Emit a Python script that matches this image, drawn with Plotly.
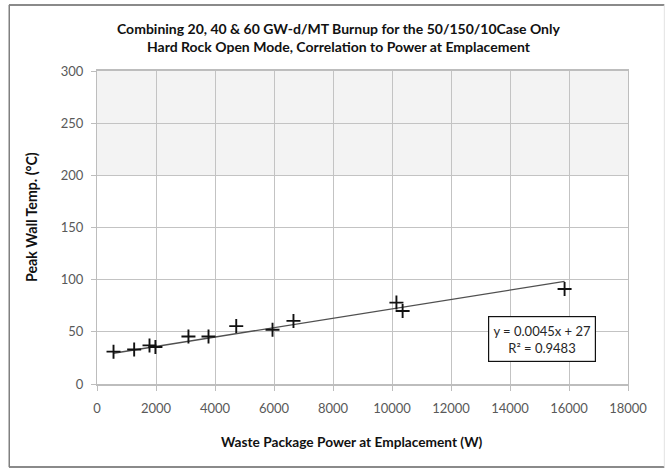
import plotly.graph_objects as go

# Peak wall temperature vs. waste package power at emplacement
power_w = [560, 1260, 1780, 1980, 3100, 3780, 4720, 5950, 6660, 10150, 10360, 15850]
peak_temp_c = [31, 33, 37, 35.5, 45.5, 45.5, 55.5, 52, 60.5, 78, 70, 91]

# Linear trendline reported on the chart
slope = 0.0045
intercept = 27
r_squared = 0.9483

x_ticks = list(range(0, 18001, 2000))
y_ticks = list(range(0, 301, 50))

W, H = 670, 470
L, R, T, B = 97, 627.7, 71, 384  # plot area in pixels


def px_x(p):
    return (p - L) / (R - L)


def px_y(p):
    return (B - p) / (B - T)


FONT = "Lato, sans-serif"
tick_font = dict(family=FONT, size=13, color="#595959")

fig = go.Figure()

trend_x = [min(power_w), max(power_w)]
trend_y = [slope * v + intercept for v in trend_x]
fig.add_trace(go.Scatter(
    x=trend_x, y=trend_y, mode="lines",
    line=dict(color="#505050", width=1.4),
    hoverinfo="skip", showlegend=False,
))

fig.add_trace(go.Scatter(
    x=power_w, y=peak_temp_c, mode="markers",
    marker=dict(symbol="cross-thin", size=10, line=dict(color="#111111", width=1.9)),
    showlegend=False,
))

grid = "#c3c3c3"
fig.update_xaxes(
    range=[0, 18000], tickvals=x_ticks, ticktext=[str(v) for v in x_ticks],
    showgrid=True, gridcolor=grid, gridwidth=1,
    showline=True, linecolor="#bdbdbd", linewidth=1.5, mirror=True,
    ticks="outside", ticklen=5, tickcolor="#bdbdbd",
    tickfont=tick_font, zeroline=False, ticklabelstandoff=7,
)
fig.update_yaxes(
    range=[0, 300], tickvals=y_ticks, ticktext=[str(v) for v in y_ticks],
    showgrid=True, gridcolor=grid, gridwidth=1,
    showline=True, linecolor="#bdbdbd", linewidth=1.2, mirror=True,
    ticks="outside", ticklen=5, tickcolor="#bdbdbd",
    tickfont=tick_font, zeroline=False, ticklabelstandoff=5,
)

shapes = [
    # shaded band above 200 °C
    dict(type="rect", xref="x", yref="y", x0=0, x1=18000, y0=200, y1=300,
         fillcolor="#f3f3f3", line=dict(width=0), layer="below"),
    # chart frame
    dict(type="line", xref="paper", yref="paper", x0=px_x(9), x1=px_x(664),
         y0=px_y(5), y1=px_y(5), line=dict(color="#8a8a8a", width=2)),
    dict(type="line", xref="paper", yref="paper", x0=px_x(9), x1=px_x(664),
         y0=px_y(467), y1=px_y(467), line=dict(color="#8a8a8a", width=2)),
    dict(type="line", xref="paper", yref="paper", x0=px_x(9.3), x1=px_x(9.3),
         y0=px_y(5), y1=px_y(467), line=dict(color="#808080", width=1.5)),
    dict(type="line", xref="paper", yref="paper", x0=px_x(664), x1=px_x(664),
         y0=px_y(5), y1=px_y(467), line=dict(color="#e2e2e2", width=1)),
]

annotations = [
    dict(xref="paper", yref="paper", x=px_x(338), y=px_y(37.5), xanchor="center", yanchor="middle",
         text="<b>Combining 20, 40 & 60 GW-d/MT Burnup for the 50/150/10Case Only<br>"
              "Hard Rock Open Mode, Correlation to Power at Emplacement</b>",
         showarrow=False, font=dict(family=FONT, size=14, color="#111111"), align="center"),
    dict(xref="paper", yref="paper", x=px_x(352), y=px_y(441), xanchor="center", yanchor="middle",
         text="<b>Waste Package Power at Emplacement (W)</b>",
         showarrow=False, font=dict(family=FONT, size=13.7, color="#111111")),
    dict(xref="paper", yref="paper", x=px_x(32), y=px_y(217), xanchor="center", yanchor="middle",
         text="<b>Peak Wall Temp. (°C)</b>", textangle=-90,
         showarrow=False, font=dict(family=FONT, size=14.2, color="#111111")),
    dict(xref="paper", yref="paper", x=px_x(542), y=px_y(339), xanchor="center", yanchor="middle",
         text=f"y = {slope}x + {intercept}<br>R² = {r_squared}",
         showarrow=False, font=dict(family=FONT, size=13, color="#262626"),
         width=100, height=38,
         bgcolor="white", bordercolor="#111111", borderwidth=1.2, borderpad=3, align="center"),
]

fig.update_layout(
    width=W, height=H, autosize=False,
    margin=dict(l=L, r=W - R, t=T, b=H - B, pad=0),
    paper_bgcolor="white", plot_bgcolor="white",
    shapes=shapes, annotations=annotations, showlegend=False,
)

fig.write_html("out.html")
